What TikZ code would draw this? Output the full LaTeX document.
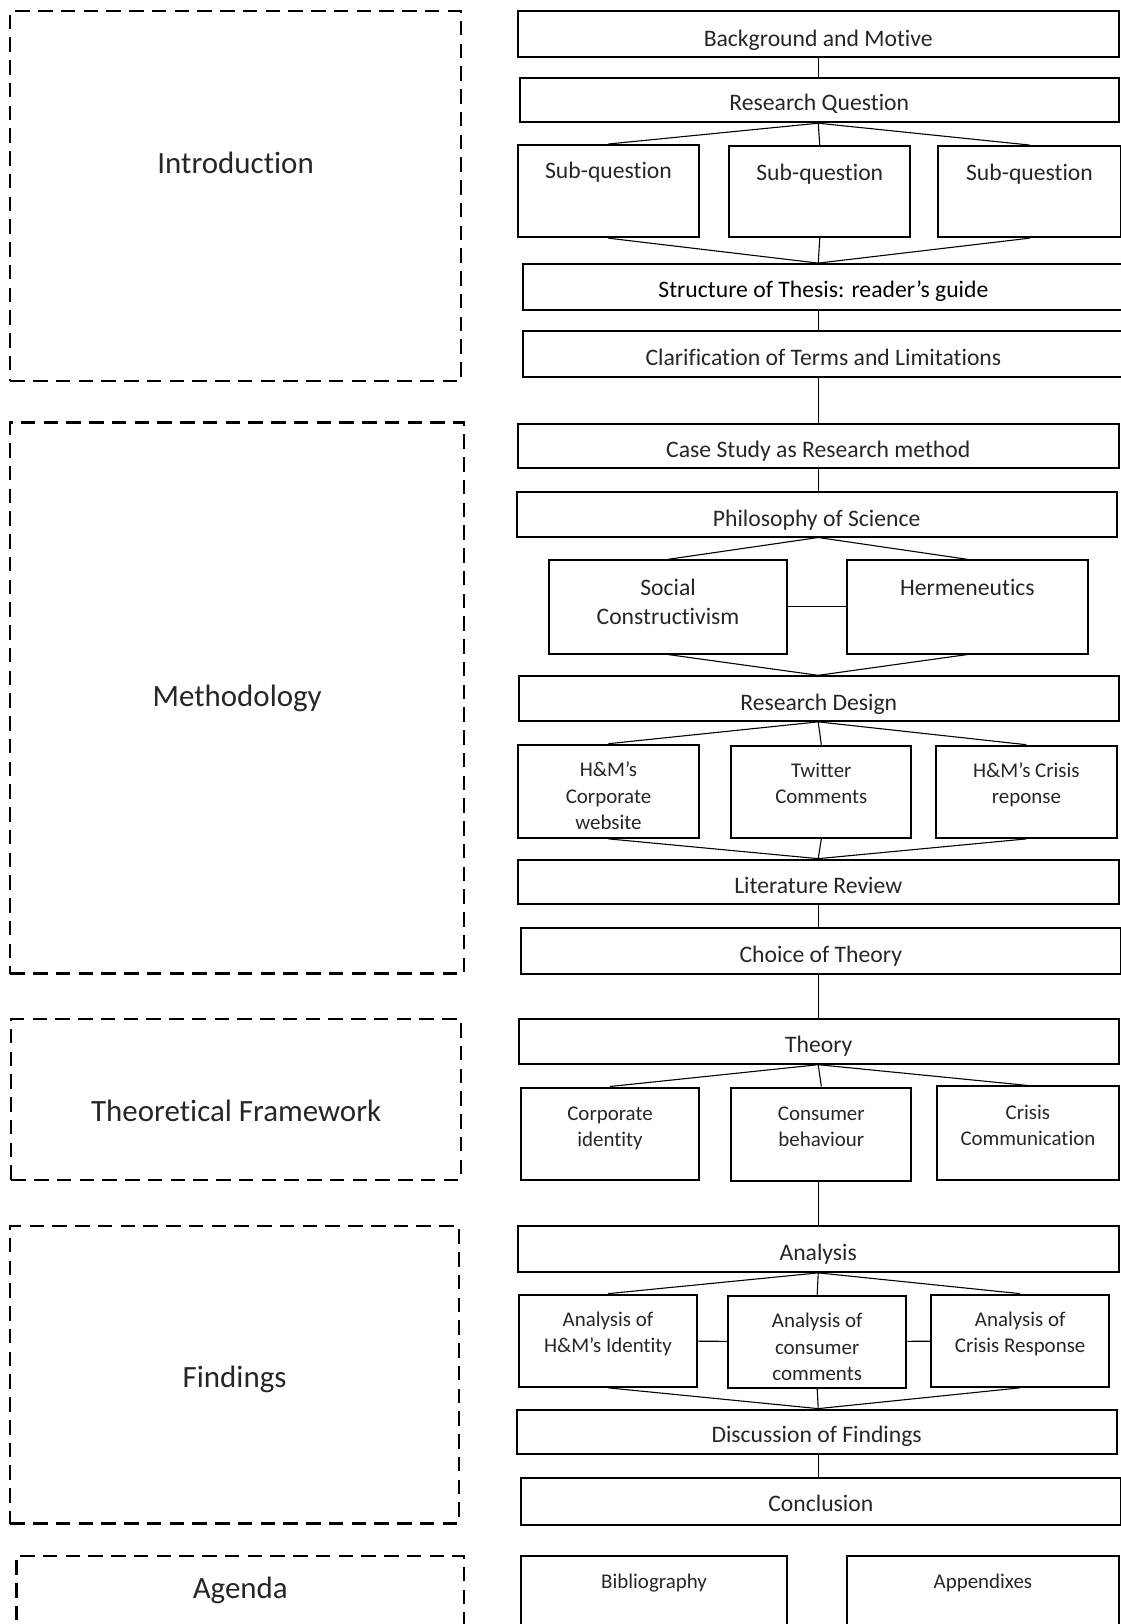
\documentclass[tikz,border=0pt]{standalone}
\usepackage{fontspec}
\setmainfont{Carlito}[Ligatures=NoCommon]
\tikzset{
  part/.style 2 args={draw, line width=1.2pt, dash pattern=on 8pt off 4.5pt,
    minimum width=#1*0.2mm, minimum height=#2*0.2mm, inner sep=0pt},
  stage/.style 2 args={draw, line width=1.1pt,
    minimum width=#1*0.2mm, minimum height=#2*0.2mm, inner sep=0pt},
  % base of the last line, measured down from the top of the box
  txt/.style={anchor=base, inner sep=0pt, align=center, text=black!85, yshift=-#1*0.2mm},
  partfont/.style={font=\fontsize{17}{20}\selectfont},
  rowfont/.style={font=\fontsize{13}{16}\selectfont},
  boxfont/.style={font=\fontsize{11.5}{14.5}\selectfont},
  link/.style={line width=0.6pt}
}
\begin{document}
\begin{tikzpicture}[x=0.2mm, y=-0.2mm]
  \useasboundingbox (0,0) rectangle (1082,1568);
  \coordinate (spine) at (790,0);

  % parts of the thesis
  \node[part={435}{357}, label={[txt=158, partfont]north:Introduction}] (intro) at (227.5,189.5) {};
  \node[part={438}{532}, label={[txt=275, partfont]north:Methodology}] (meth) at (229,674) {};
  \node[part={434}{155}, label={[txt=100, partfont]north:Theoretical Framework}] (theo) at (228,1061.5) {};
  \node[part={433}{287}, label={[txt=157, partfont]north:Findings}] (find) at (226.5,1327.5) {};
  \node[part={432}{98}, label={[txt=42, partfont]north:Agenda}] (agenda) at (232,1551) {};

  % introduction
  \node[stage={580}{44}, label={[txt=35, rowfont]north:Background and Motive}] (bg) at (790,33) {};
  \node[stage={578}{43}, label={[txt=33, rowfont]north:Research Question}] (rq) at (791,96.5) {};
  \node[stage={175}{89}, label={[txt=33, rowfont]north:Sub-question}] (sq1) at (587.5,184.5) {};
  \node[stage={175}{88}, label={[txt=34, rowfont]north:Sub-question}] (sq2) at (791.5,185) {};
  \node[stage={176}{88}, label={[txt=34, rowfont]north:Sub-question}] (sq3) at (994,185) {};
  \node[stage={580}{44}, label={[txt=33, rowfont, text=black]north:Structure of Thesis: reader’s guide}] (struct) at (795,277) {};
  \node[stage={580}{44}, label={[txt=34, rowfont]north:Clarification of Terms and Limitations}] (clar) at (795,342) {};

  % methodology
  \node[stage={580}{43}, label={[txt=34, rowfont]north:Case Study as Research method}] (case) at (790,430.5) {};
  \node[stage={579}{43}, label={[txt=34, rowfont]north:Philosophy of Science}] (phil) at (788.5,496.5) {};
  \node[stage={230}{90}, label={[txt=63, rowfont]north:{Social\\Constructivism}}] (soc) at (645,586) {};
  \node[stage={232}{90}, label={[txt=35, rowfont]north:Hermeneutics}] (herm) at (934,586) {};
  \node[stage={579}{43}, label={[txt=34, rowfont]north:Research Design}] (rd) at (790.5,674.5) {};
  \node[stage={175}{90}, label={[txt=83, boxfont]north:{H\&M’s\\Corporate\\website}}] (web) at (587.5,764) {};
  \node[stage={174}{89}, label={[txt=57, boxfont]north:{Twitter\\Comments}}] (tw) at (793,764.5) {};
  \node[stage={174}{89}, label={[txt=57, boxfont]north:{H\&M’s Crisis\\reponse}}] (resp) at (991,764.5) {};
  \node[stage={580}{43}, label={[txt=34, rowfont]north:Literature Review}] (lr) at (790,851.5) {};
  \node[stage={579}{44}, label={[txt=34, rowfont]north:Choice of Theory}] (choice) at (792.5,918) {};

  % theory
  \node[stage={579}{43}, label={[txt=33, rowfont]north:Theory}] (theory) at (790.5,1005.5) {};
  \node[stage={172}{89}, label={[txt=58, boxfont]north:{Corporate\\identity}}] (cid) at (589,1094.5) {};
  \node[stage={174}{90}, label={[txt=58, boxfont]north:{Consumer\\behaviour}}] (cb) at (793,1095) {};
  \node[stage={175}{90}, label={[txt=58, boxfont]north:{Crisis\\Communication}}] (cc) at (992.5,1094) {};

  % findings
  \node[stage={580}{44}, label={[txt=34, rowfont]north:Analysis}] (ana) at (790,1206) {};
  \node[stage={172}{89}, label={[txt=57, boxfont]north:{Analysis of\\H\&M’s Identity}}] (aid) at (587,1294.5) {};
  \node[stage={172}{89}, label={[txt=83, boxfont]north:{Analysis of\\consumer\\comments}}] (acc) at (789,1295.5) {};
  \node[stage={172}{89}, label={[txt=57, boxfont]north:{Analysis of\\Crisis Response}}] (acr) at (985,1294.5) {};
  \node[stage={579}{43}, label={[txt=33, rowfont]north:Discussion of Findings}] (disc) at (788.5,1382.5) {};
  \node[stage={579}{45}, label={[txt=33, rowfont]north:Conclusion}] (concl) at (792.5,1449.5) {};

  % agenda
  \node[stage={257}{98}, label={[txt=33, boxfont]north:Bibliography}] (bib) at (631.5,1551) {};
  \node[stage={262}{98}, label={[txt=33, boxfont]north:Appendixes}] (app) at (949,1551) {};

  % connectors
  \draw[link] (spine |- bg.south) -- (spine |- rq.north);
  \foreach \n in {sq1,sq2,sq3} {
    \draw[link] (spine |- rq.south) -- (\n.north);
    \draw[link] (\n.south) -- (spine |- struct.north);
  }
  \draw[link] (spine |- struct.south) -- (spine |- clar.north);
  \draw[link] (spine |- clar.south) -- (spine |- case.north);
  \draw[link] (spine |- case.south) -- (spine |- phil.north);
  \foreach \n in {soc,herm} {
    \draw[link] (spine |- phil.south) -- (\n.north);
    \draw[link] (\n.south) -- (spine |- rd.north);
  }
  \draw[link] (soc) -- (herm);
  \foreach \n in {web,tw,resp} {
    \draw[link] (spine |- rd.south) -- (\n.north);
    \draw[link] (\n.south) -- (spine |- lr.north);
  }
  \draw[link] (spine |- lr.south) -- (spine |- choice.north);
  \draw[link] (spine |- choice.south) -- (spine |- theory.north);
  \foreach \n in {cid,cb,cc}
    \draw[link] (spine |- theory.south) -- (\n.north);
  \draw[link] (spine |- cb.south) -- (spine |- ana.north);
  \foreach \n in {aid,acc,acr} {
    \draw[link] (spine |- ana.south) -- (\n.north);
    \draw[link] (\n.south) -- (spine |- disc.north);
  }
  \draw[link] (aid) -- (acc);
  \draw[link] (acc) -- (acr);
  \draw[link] (spine |- disc.south) -- (spine |- concl.north);
\end{tikzpicture}
\end{document}
